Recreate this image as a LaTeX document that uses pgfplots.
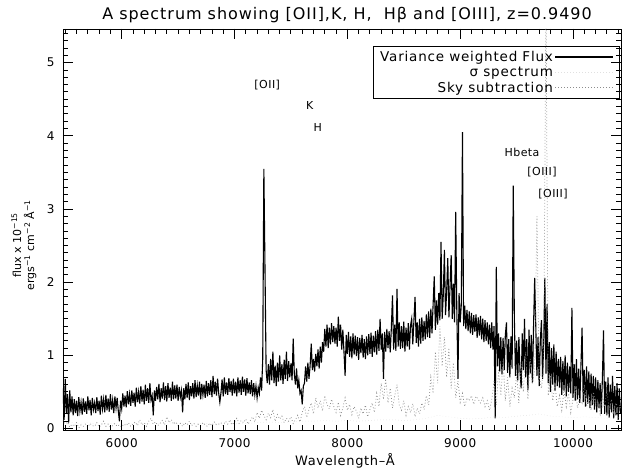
\documentclass[border=0pt]{standalone}
\usepackage{fontspec}
\setmainfont{DejaVu Sans}
\usepackage{pgfplots}
\pgfplotsset{compat=1.18}
\begin{document}
\begin{tikzpicture}
\begin{axis}[
  at={(0pt,0pt)}, anchor=south west,
  scale only axis, width=558pt, height=401pt,
  xmin=5480, xmax=10425, ymin=-0.02, ymax=5.46,
  xtick={6000,7000,8000,9000,10000},
  ytick={0,1,2,3,4,5},
  scaled x ticks=false,
  major tick length=0pt,
  axis line style={line width=0.8pt},
  /pgf/number format/assume math mode=true,
  /pgf/number format/1000 sep={},
  ticklabel style={font=\fontsize{12}{14}\selectfont\addfontfeature{LetterSpace=4}},
  xticklabel style={yshift=-5pt},
  yticklabel style={xshift=-5pt},
  legend style={at={(0.997,0.958)}, anchor=north east, draw=black, line width=0.6pt,
    fill=none,
    font=\fontsize{13.5}{15}\selectfont\addfontfeature{LetterSpace=6},
    row sep=0pt, inner xsep=5pt, inner ysep=3pt},
  legend cell align=right, legend plot pos=right,
  legend image code/.code={\draw[#1] (0pt,0pt) -- (58pt,0pt);},
]
% variance weighted flux
\addplot[black, line width=1.1pt] coordinates {
(5480,0.55) (5490,0.12) (5500,0.68) (5510,0.20) (5520,0.47) (5530,0.08) (5540,0.52) (5550,0.22) (5560,0.44) (5570,0.18)
(5580,0.40) (5590,0.21) (5600,0.38) (5610,0.17) (5620,0.43) (5630,0.24) (5640,0.36) (5650,0.19) (5660,0.41) (5670,0.23)
(5680,0.37) (5690,0.20) (5700,0.44) (5710,0.25) (5720,0.39) (5730,0.18) (5740,0.42) (5750,0.26) (5760,0.35) (5770,0.21)
(5780,0.43) (5790,0.24) (5800,0.38) (5810,0.19) (5820,0.45) (5830,0.27) (5840,0.40) (5850,0.22) (5860,0.46) (5870,0.25)
(5880,0.41) (5890,0.23) (5900,0.47) (5910,0.26) (5920,0.39) (5930,0.21) (5940,0.44) (5950,0.28) (5960,0.42) (5970,0.24)
(5980,0.10) (5990,0.38) (6000,0.27) (6010,0.48) (6020,0.30) (6030,0.45) (6040,0.29) (6050,0.51) (6060,0.33) (6070,0.47)
(6080,0.31) (6090,0.52) (6100,0.35) (6110,0.49) (6120,0.30) (6130,0.56) (6140,0.36) (6150,0.50) (6160,0.34) (6170,0.58)
(6180,0.37) (6190,0.53) (6200,0.33) (6210,0.60) (6220,0.38) (6230,0.55) (6240,0.35) (6250,0.62) (6260,0.39) (6270,0.45)
(6280,0.18) (6290,0.52) (6300,0.38) (6310,0.57) (6320,0.40) (6330,0.61) (6340,0.36) (6350,0.55) (6360,0.41) (6370,0.63)
(6380,0.39) (6390,0.58) (6400,0.37) (6410,0.62) (6420,0.42) (6430,0.56) (6440,0.38) (6450,0.64) (6460,0.40) (6470,0.59)
(6480,0.41) (6490,0.60) (6500,0.38) (6510,0.57) (6520,0.43) (6530,0.52) (6540,0.22) (6550,0.55) (6560,0.40) (6570,0.61)
(6580,0.42) (6590,0.63) (6600,0.39) (6610,0.58) (6620,0.44) (6630,0.62) (6640,0.41) (6650,0.66) (6660,0.43) (6670,0.59)
(6680,0.45) (6690,0.64) (6700,0.40) (6710,0.61) (6720,0.46) (6730,0.60) (6740,0.42) (6750,0.65) (6760,0.44) (6770,0.62)
(6780,0.46) (6790,0.66) (6800,0.43) (6810,0.72) (6820,0.47) (6830,0.64) (6840,0.45) (6850,0.68) (6860,0.48) (6870,0.36)
(6880,0.49) (6890,0.67) (6900,0.44) (6910,0.70) (6920,0.47) (6930,0.63) (6940,0.46) (6950,0.69) (6960,0.50) (6970,0.65)
(6980,0.45) (6990,0.68) (7000,0.48) (7010,0.64) (7020,0.44) (7030,0.70) (7040,0.49) (7050,0.66) (7060,0.46) (7070,0.71)
(7080,0.50) (7090,0.67) (7100,0.45) (7110,0.69) (7120,0.48) (7130,0.63) (7140,0.47) (7150,0.66) (7160,0.44) (7170,0.62)
(7180,0.46) (7190,0.58) (7200,0.42) (7210,0.56) (7220,0.48) (7230,0.70) (7240,0.52) (7250,0.95) (7260,3.55) (7270,2.20)
(7280,0.80) (7290,0.62) (7300,0.88) (7310,0.60) (7320,0.95) (7330,0.66) (7340,1.05) (7350,0.62) (7360,0.86) (7370,0.58)
(7380,0.90) (7390,0.64) (7400,1.00) (7410,0.66) (7420,0.88) (7430,0.61) (7440,0.94) (7450,0.68) (7460,1.05) (7470,0.65)
(7480,0.92) (7490,0.70) (7500,0.89) (7510,0.66) (7520,1.23) (7530,0.74) (7540,0.60) (7550,0.82) (7560,0.55) (7570,0.66)
(7580,0.48) (7590,0.52) (7600,0.33) (7610,0.58) (7620,0.62) (7630,0.85) (7640,0.64) (7650,0.90) (7660,0.68) (7670,0.86)
(7680,1.16) (7690,0.80) (7700,0.95) (7710,0.78) (7720,1.02) (7730,0.85) (7740,1.08) (7750,0.82) (7760,1.12) (7770,0.90)
(7780,1.18) (7790,1.05) (7800,1.36) (7810,1.12) (7820,1.42) (7830,1.10) (7840,1.38) (7850,1.15) (7860,1.44) (7870,1.18)
(7880,1.40) (7890,1.16) (7900,1.38) (7910,1.12) (7920,1.53) (7930,1.20) (7940,1.42) (7950,1.08) (7960,1.35) (7970,1.05)
(7980,0.72) (7990,1.28) (8000,1.02) (8010,1.32) (8020,0.98) (8030,1.26) (8040,0.96) (8050,1.30) (8060,1.01) (8070,1.27)
(8080,0.99) (8090,1.25) (8100,0.94) (8110,1.24) (8120,1.03) (8130,1.28) (8140,0.97) (8150,1.22) (8160,0.95) (8170,1.26)
(8180,1.00) (8190,1.29) (8200,1.02) (8210,1.31) (8220,0.98) (8230,1.27) (8240,1.04) (8250,1.33) (8260,1.01) (8270,1.35)
(8280,1.06) (8290,1.50) (8300,1.08) (8310,1.30) (8320,0.68) (8330,1.32) (8340,1.05) (8350,1.36) (8360,1.10) (8370,1.33)
(8380,1.04) (8390,1.38) (8400,1.82) (8410,1.08) (8420,1.42) (8430,1.06) (8440,1.91) (8450,1.12) (8460,1.45) (8470,1.09)
(8480,1.40) (8490,1.10) (8500,1.46) (8510,1.05) (8520,1.38) (8530,1.12) (8540,1.44) (8550,1.08) (8560,1.41) (8570,1.50)
(8580,1.15) (8590,1.48) (8600,1.80) (8610,1.17) (8620,1.45) (8630,1.12) (8640,1.50) (8650,1.16) (8660,1.52) (8670,1.20)
(8680,1.47) (8690,1.22) (8700,1.56) (8710,1.25) (8720,1.60) (8730,1.24) (8740,1.64) (8750,1.30) (8760,1.70) (8770,2.08)
(8780,1.35) (8790,1.75) (8800,1.42) (8810,1.85) (8820,1.48) (8830,2.55) (8840,1.50) (8850,1.82) (8860,2.44) (8870,1.55)
(8880,1.88) (8890,2.33) (8900,1.52) (8910,1.95) (8920,2.37) (8930,1.50) (8940,1.98) (8950,1.45) (8960,2.96) (8970,1.60)
(8980,0.68) (8990,1.85) (9000,1.45) (9010,1.70) (9020,4.05) (9030,1.40) (9040,1.68) (9050,1.36) (9060,1.62) (9070,1.33)
(9080,1.60) (9090,1.30) (9100,1.58) (9110,1.28) (9120,1.55) (9130,1.32) (9140,1.56) (9150,1.24) (9160,1.52) (9170,1.27)
(9180,1.54) (9190,1.22) (9200,1.50) (9210,1.18) (9220,1.48) (9230,1.20) (9240,1.45) (9250,1.15) (9260,1.42) (9270,1.10)
(9280,1.45) (9290,1.08) (9300,1.40) (9310,0.14) (9320,2.21) (9330,0.85) (9340,1.30) (9350,0.78) (9360,1.25) (9370,0.74)
(9380,1.24) (9390,0.80) (9400,1.28) (9410,1.45) (9420,0.76) (9430,1.22) (9440,0.70) (9450,1.26) (9460,0.82) (9470,3.32)
(9480,1.50) (9490,0.72) (9500,1.20) (9510,0.66) (9520,1.25) (9530,0.78) (9540,0.55) (9550,1.30) (9560,0.80) (9570,1.50)
(9580,0.70) (9590,1.22) (9600,0.52) (9610,1.35) (9620,0.75) (9630,1.28) (9640,0.62) (9650,1.40) (9660,2.06) (9670,1.38)
(9680,0.72) (9690,1.25) (9700,0.58) (9710,1.20) (9720,1.48) (9730,0.68) (9740,1.15) (9750,2.06) (9760,0.75) (9770,1.70)
(9780,0.62) (9790,1.18) (9800,0.50) (9810,1.10) (9820,0.60) (9830,1.15) (9840,0.52) (9850,1.05) (9860,0.58) (9870,0.95)
(9880,0.56) (9890,0.98) (9900,0.46) (9910,0.92) (9920,0.52) (9930,1.00) (9940,0.44) (9950,0.90) (9960,0.50) (9970,0.85)
(9980,0.48) (9990,1.65) (10000,0.42) (10010,0.88) (10020,0.38) (10030,0.95) (10040,0.40) (10050,0.82) (10060,0.35) (10070,0.86)
(10080,1.38) (10090,0.36) (10100,0.80) (10110,0.30) (10120,0.85) (10130,0.34) (10140,0.78) (10150,0.28) (10160,0.75) (10170,0.32)
(10180,0.72) (10190,0.26) (10200,0.70) (10210,0.22) (10220,0.66) (10230,0.28) (10240,0.62) (10250,0.20) (10260,0.68) (10270,1.34)
(10280,0.20) (10290,0.64) (10300,0.18) (10310,0.70) (10320,0.15) (10330,0.60) (10340,0.22) (10350,0.72) (10360,0.14) (10370,0.58)
(10380,0.18) (10390,0.62) (10400,0.12) (10410,0.55) (10420,0.20)
};
\addlegendentry{Variance weighted Flux}
% sigma spectrum
\addplot[black!12, line width=0.5pt, dash pattern=on 0.6pt off 2.4pt] coordinates {
(5480,0.10) (5600,0.07) (5700,0.08) (5800,0.06) (5900,0.07) (6000,0.06) (6100,0.07) (6200,0.06) (6300,0.07) (6400,0.06)
(6500,0.07) (6600,0.06) (6700,0.07) (6800,0.07) (6900,0.06) (7000,0.07) (7100,0.07) (7200,0.08) (7300,0.09) (7400,0.08)
(7500,0.09) (7600,0.10) (7700,0.10) (7800,0.11) (7900,0.10) (8000,0.11) (8100,0.10) (8200,0.11) (8300,0.12) (8400,0.12)
(8500,0.11) (8600,0.12) (8700,0.14) (8800,0.18) (8900,0.16) (9000,0.14) (9100,0.13) (9200,0.14) (9300,0.16) (9400,0.15)
(9500,0.17) (9600,0.18) (9700,0.20) (9800,0.17) (9900,0.16) (10000,0.15) (10100,0.16) (10200,0.15) (10300,0.14) (10420,0.15)
};
\addlegendentry{σ spectrum}
% sky subtraction
\addplot[black!45, line width=0.75pt, dash pattern=on 0.8pt off 2.2pt] coordinates {
(5480,0.12) (5500,0.04) (5520,0.09) (5540,0.02) (5560,0.06) (5580,0.03) (5600,0.08) (5620,0.01) (5640,0.05) (5660,0.03)
(5680,0.06) (5700,0.02) (5720,0.07) (5740,0.04) (5760,0.03) (5780,0.08) (5800,0.02) (5820,0.05) (5840,0.10) (5860,0.03)
(5880,0.06) (5900,0.02) (5920,0.04) (5940,0.07) (5960,0.03) (5980,0.05) (6000,0.02) (6020,0.06) (6040,0.04) (6060,0.08)
(6080,0.03) (6100,0.06) (6120,0.09) (6140,0.04) (6160,0.12) (6180,0.05) (6200,0.08) (6220,0.03) (6240,0.10) (6260,0.14)
(6280,0.06) (6300,0.09) (6320,0.04) (6340,0.07) (6360,0.11) (6380,0.05) (6400,0.16) (6420,0.08) (6440,0.12) (6460,0.06)
(6480,0.09) (6500,0.04) (6520,0.07) (6540,0.03) (6560,0.08) (6580,0.05) (6600,0.10) (6620,0.04) (6640,0.07) (6660,0.03)
(6680,0.06) (6700,0.04) (6720,0.08) (6740,0.05) (6760,0.03) (6780,0.07) (6800,0.04) (6820,0.09) (6840,0.05) (6860,0.06)
(6880,0.08) (6900,0.04) (6920,0.10) (6940,0.06) (6960,0.12) (6980,0.05) (7000,0.09) (7020,0.14) (7040,0.07) (7060,0.11)
(7080,0.08) (7100,0.13) (7120,0.06) (7140,0.11) (7160,0.16) (7180,0.09) (7200,0.22) (7220,0.14) (7240,0.25) (7260,0.18)
(7280,0.12) (7300,0.21) (7320,0.15) (7340,0.26) (7360,0.10) (7380,0.19) (7400,0.13) (7420,0.17) (7440,0.08) (7460,0.14)
(7480,0.10) (7500,0.16) (7520,0.07) (7540,0.12) (7560,0.18) (7580,0.09) (7600,0.22) (7620,0.30) (7640,0.15) (7660,0.26)
(7680,0.35) (7700,0.20) (7720,0.42) (7740,0.28) (7760,0.38) (7780,0.24) (7800,0.45) (7820,0.33) (7840,0.27) (7860,0.40)
(7880,0.30) (7900,0.22) (7920,0.36) (7940,0.18) (7960,0.28) (7980,0.42) (8000,0.25) (8020,0.33) (8040,0.19) (8060,0.30)
(8080,0.24) (8100,0.14) (8120,0.28) (8140,0.20) (8160,0.32) (8180,0.16) (8200,0.26) (8220,0.35) (8240,0.22) (8260,0.48)
(8280,0.30) (8300,0.62) (8320,0.40) (8340,0.68) (8360,0.35) (8380,0.55) (8400,0.28) (8420,0.45) (8440,0.60) (8460,0.32)
(8480,0.25) (8500,0.38) (8520,0.18) (8540,0.30) (8560,0.22) (8580,0.34) (8600,0.16) (8620,0.28) (8640,0.20) (8660,0.35)
(8680,0.26) (8700,0.45) (8720,0.32) (8740,0.70) (8760,0.48) (8780,1.05) (8800,0.62) (8820,1.40) (8840,0.85) (8860,1.25)
(8880,0.70) (8900,1.10) (8920,0.55) (8940,0.90) (8960,0.42) (8980,0.65) (9000,0.36) (9020,0.48) (9040,0.30) (9060,0.42)
(9080,0.38) (9100,0.45) (9120,0.33) (9140,0.44) (9160,0.40) (9180,0.35) (9200,0.42) (9220,0.30) (9240,0.38) (9260,0.25)
(9280,0.40) (9300,0.65) (9320,0.32) (9340,0.80) (9360,0.45) (9380,0.92) (9400,0.38) (9420,0.70) (9440,0.30) (9460,0.55)
(9480,0.42) (9500,0.75) (9520,0.35) (9540,0.88) (9560,0.50) (9580,1.05) (9600,0.40) (9620,0.95) (9640,0.62) (9660,0.80)
(9680,2.90) (9700,0.70) (9720,0.55) (9740,0.85) (9760,6.00) (9780,0.45) (9800,0.72) (9820,0.38) (9840,0.60) (9860,0.30)
(9880,0.45) (9900,0.25) (9920,0.52) (9940,0.30) (9960,0.48) (9980,0.22) (10000,0.40) (10020,0.55) (10040,0.28) (10060,0.42)
(10080,0.35) (10100,0.60) (10120,0.30) (10140,0.45) (10160,0.25) (10180,0.50) (10200,0.32) (10220,0.38) (10240,0.20) (10260,0.44)
(10280,0.30) (10300,0.52) (10320,0.26) (10340,0.40) (10360,0.22) (10380,0.35) (10400,0.28) (10420,0.32)
};
\addlegendentry{Sky subtraction}
% tick marks on all four sides, pointing inwards
\pgfplotsinvokeforeach{5500,5600,...,10400}{
  \draw[line width=0.9pt] (axis cs:#1,-0.02) -- ++(0pt,5pt);
  \draw[line width=0.9pt] (axis cs:#1,5.46) -- ++(0pt,-5pt);
}
\pgfplotsinvokeforeach{6000,7000,...,10000}{
  \draw[line width=1pt] (axis cs:#1,-0.02) -- ++(0pt,10pt);
  \draw[line width=1pt] (axis cs:#1,5.46) -- ++(0pt,-10pt);
}
\pgfplotsinvokeforeach{0,0.1,...,5.45}{
  \draw[line width=0.9pt] (axis cs:5480,#1) -- ++(5pt,0pt);
  \draw[line width=0.9pt] (axis cs:10425,#1) -- ++(-5pt,0pt);
}
\pgfplotsinvokeforeach{0,1,...,5}{
  \draw[line width=1pt] (axis cs:5480,#1) -- ++(10pt,0pt);
  \draw[line width=1pt] (axis cs:10425,#1) -- ++(-10pt,0pt);
}
% line identifications
\begin{scope}[every node/.style={font=\fontsize{11}{13}\selectfont\addfontfeature{LetterSpace=4}}]
\node at (axis cs:7290,4.70) {[OII]};
\node at (axis cs:7667,4.41) {K};
\node at (axis cs:7738,4.11) {H};
\node at (axis cs:9548,3.78) {Hbeta};
\node at (axis cs:9725,3.50) {[OIII]};
\node at (axis cs:9823,3.20) {[OIII]};
\end{scope}
\end{axis}
\node[font=\fontsize{16}{18}\selectfont\addfontfeature{LetterSpace=6}] at (284pt,415pt) {A spectrum showing [OII],K, H,\ \ Hβ and [OIII], z=0.9490};
\node[font=\fontsize{13}{15}\selectfont\addfontfeature{LetterSpace=5}] at (282pt,-31pt) {Wavelength–Å};
\node[rotate=90, align=center, font=\fontsize{11}{13}\selectfont] at (-39pt,185pt)
  {flux x 10\textsuperscript{−15}\\ergs\textsuperscript{−1} cm\textsuperscript{−2} Å\textsuperscript{−1}};
% page frame
\path (-63pt,-42pt) rectangle (559pt,430pt);
\end{tikzpicture}
\end{document}
